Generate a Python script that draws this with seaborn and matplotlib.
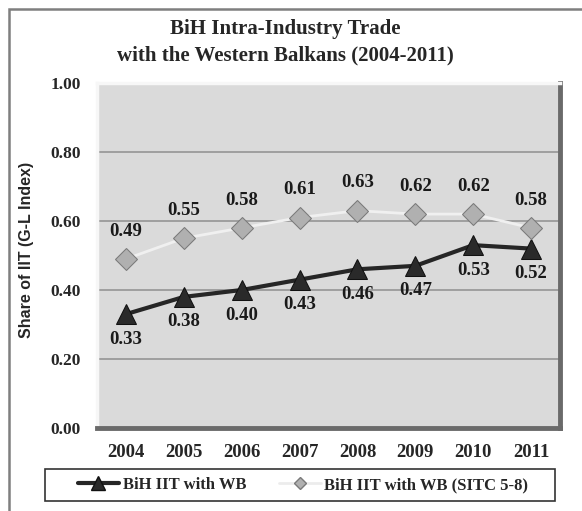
import matplotlib
matplotlib.use("Agg")
import matplotlib.pyplot as plt
import seaborn as sns
import pandas as pd
from matplotlib.patches import Rectangle

# --- Data ---
years = ["2004", "2005", "2006", "2007", "2008", "2009", "2010", "2011"]
iit_wb = [0.33, 0.38, 0.40, 0.43, 0.46, 0.47, 0.53, 0.52]
iit_wb_sitc = [0.49, 0.55, 0.58, 0.61, 0.63, 0.62, 0.62, 0.58]
series_names = ["BiH IIT with WB", "BiH IIT with WB (SITC 5-8)"]
y_ticks = [0.0, 0.2, 0.4, 0.6, 0.8, 1.0]

df = pd.DataFrame({
    "year": years * 2,
    "value": iit_wb + iit_wb_sitc,
    "series": [series_names[0]] * len(years) + [series_names[1]] * len(years),
})

W, H = 582, 511
sns.set_style("white")
plt.rcParams["font.family"] = ["Liberation Serif", "DejaVu Serif"]

fig = plt.figure(figsize=(W / 100, H / 100), dpi=100)

def fx(px):
    return px / W

def fy(py):
    return 1 - py / H

# outer frame (right/bottom edges run off the image)
fig.patches.append(Rectangle((fx(9), fy(530)), 1.2, fy(9) - fy(530), transform=fig.transFigure,
                             fill=False, edgecolor="#7f7f7f", linewidth=1.8))

# plot area: x 97..560, y 83..428
ax = fig.add_axes([fx(97), fy(428), (560 - 97) / W, (428 - 83) / H])
ax.set_facecolor("#dadada")

sns.lineplot(data=df, x="year", y="value", hue="series", style="series",
             palette={series_names[0]: "#262626", series_names[1]: "#f0f0f0"},
             markers={series_names[0]: "^", series_names[1]: "D"},
             dashes=False, linewidth=3, markersize=14, ax=ax, legend=False,
             sort=False)
dark, light = ax.lines[0], ax.lines[1]
dark.set_markeredgecolor("#111111")
dark.set_markerfacecolor("#2a2a2a")
light.set_markeredgecolor("#7a7a7a")
light.set_markerfacecolor("#b0b0b0")
light.set_markersize(11)
light.set_linewidth(2)

for i, (a, b) in enumerate(zip(iit_wb, iit_wb_sitc)):
    ax.annotate(f"{a:.2f}", (i, a), xytext=(0, -18), textcoords="offset points",
                ha="center", va="center", fontsize=13.5, fontweight="bold", color="#1a1a1a")
    ax.annotate(f"{b:.2f}", (i, b), xytext=(0, 20), textcoords="offset points",
                ha="center", va="center", fontsize=13.5, fontweight="bold", color="#1a1a1a")

ax.set_ylim(0, 1.0)
ax.set_xlim(-0.5, len(years) - 0.5)
ax.set_yticks(y_ticks)
ax.set_yticklabels([f"{t:.2f}" for t in y_ticks], fontsize=12.5, fontweight="bold")
ax.set_xticks(range(len(years)))
ax.set_xticklabels(years, fontsize=13.5, fontweight="bold")
ax.tick_params(axis="both", length=3.6, width=1, color="#8c8c8c", pad=8)
ax.yaxis.grid(True, color="#9a9a9a", linewidth=1.3)
ax.set_axisbelow(True)
ax.set_xlabel("")
ax.set_ylabel("")
for side in ["top", "left"]:
    ax.spines[side].set_color("#f7f7f7")
    ax.spines[side].set_linewidth(2.5)
for side in ["right", "bottom"]:
    ax.spines[side].set_color("#6a6a6a")
    ax.spines[side].set_linewidth(3.5)

fig.text(fx(27), fy(250), "Share of IIT (G-L Index)", rotation=90, ha="center", va="center",
         fontsize=11.5, fontweight="bold", family=["Liberation Sans", "DejaVu Sans"])

fig.text(fx(285), fy(29), "BiH Intra-Industry Trade", ha="center", va="center",
         fontsize=15, fontweight="bold")
fig.text(fx(285), fy(55), "with the Western Balkans (2004-2011)", ha="center", va="center",
         fontsize=15, fontweight="bold")

# legend box x 45..555, y 469..501
fig.patches.append(Rectangle((fx(45), fy(501)), (555 - 45) / W, (501 - 469) / H,
                             transform=fig.transFigure, fill=False,
                             edgecolor="#333333", linewidth=1.2))
handles = [
    plt.Line2D([], [], color="#262626", marker="^", markersize=10, linewidth=3,
               markerfacecolor="#2a2a2a", markeredgecolor="#111111"),
    plt.Line2D([], [], color="#ececec", marker="D", markersize=6, linewidth=2,
               markerfacecolor="#b0b0b0", markeredgecolor="#7a7a7a"),
]
fig.legend(handles, series_names, loc="center", bbox_to_anchor=(fx(303), fy(485)),
           ncol=2, frameon=False, prop={"weight": "bold", "size": 12},
           handlelength=2.5, handletextpad=0.2, columnspacing=2.0, borderpad=0)

fig.savefig("out.png", dpi=100)
